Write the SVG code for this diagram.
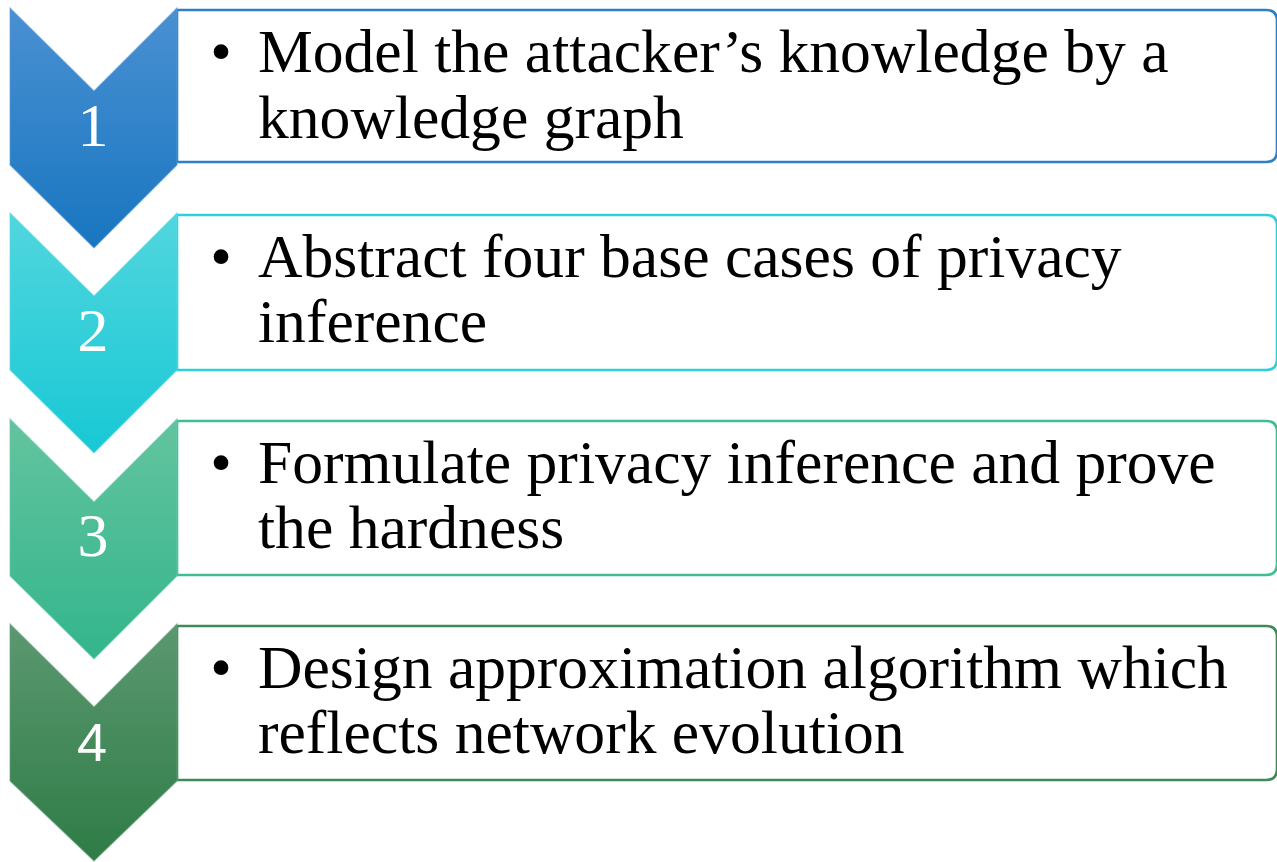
<svg xmlns="http://www.w3.org/2000/svg" width="1277" height="862" viewBox="0 0 1277 862">
  <defs>
    <linearGradient id="g1" x1="0" y1="0" x2="0" y2="1">
      <stop offset="0" stop-color="#4a90d2"/>
      <stop offset="1" stop-color="#1876c0"/>
    </linearGradient>
    <linearGradient id="g2" x1="0" y1="0" x2="0" y2="1">
      <stop offset="0" stop-color="#52d6de"/>
      <stop offset="1" stop-color="#17c8d5"/>
    </linearGradient>
    <linearGradient id="g3" x1="0" y1="0" x2="0" y2="1">
      <stop offset="0" stop-color="#63c49f"/>
      <stop offset="1" stop-color="#33b58c"/>
    </linearGradient>
    <linearGradient id="g4" x1="0" y1="0" x2="0" y2="1">
      <stop offset="0" stop-color="#5c9870"/>
      <stop offset="1" stop-color="#2e7c46"/>
    </linearGradient>
    <style>
      .box { fill: #ffffff; stroke-width: 2.6; }
      .chev { stroke-width: 1.2; stroke-opacity: 0.6; }
      .num { font-family: "Liberation Serif", "Times New Roman", serif; font-size: 62px; fill: #ffffff; text-anchor: middle; }
      .num-sans { font-family: "Liberation Sans", Arial, sans-serif; font-size: 54px; fill: #ffffff; text-anchor: middle; }
      .txt { font-family: "Liberation Serif", "Times New Roman", serif; font-size: 61.6px; fill: #000000; }
      .bul { font-family: "Liberation Serif", "Times New Roman", serif; font-size: 61.6px; fill: #000000; text-anchor: middle; }
    </style>
  </defs>

  <!-- step 1 -->
  <g id="step1">
    <path class="box" stroke="#2e7fc4" d="M177,10 H1266 Q1277,10 1277,21 V151 Q1277,162 1266,162 H177 Z"/>
    <polygon class="chev" fill="url(#g1)" stroke="#5a9ad6" points="10,8 94,91 177,8 177,165 94,248 10,165"/>
    <text class="num" x="93" y="146">1</text>
    <text class="bul" x="221" y="72">•</text>
    <text class="txt" x="258" y="72">Model the attacker’s knowledge by a</text>
    <text class="txt" x="258" y="138">knowledge graph</text>
  </g>

  <!-- step 2 -->
  <g id="step2">
    <path class="box" stroke="#2fd0d9" d="M177,215 H1266 Q1277,215 1277,226 V359 Q1277,370 1266,370 H177 Z"/>
    <polygon class="chev" fill="url(#g2)" stroke="#5adbe2" points="10,213 94,296 177,213 177,370 94,453 10,370"/>
    <text class="num" x="93" y="351">2</text>
    <text class="bul" x="221" y="277">•</text>
    <text class="txt" x="258" y="277">Abstract four base cases of privacy</text>
    <text class="txt" x="258" y="342">inference</text>
  </g>

  <!-- step 3 -->
  <g id="step3">
    <path class="box" stroke="#40bd95" d="M177,421 H1266 Q1277,421 1277,432 V564 Q1277,575 1266,575 H177 Z"/>
    <polygon class="chev" fill="url(#g3)" stroke="#6cc8a6" points="10,419 94,502 177,419 177,576 94,659 10,576"/>
    <text class="num" x="93" y="556">3</text>
    <text class="bul" x="221" y="483">•</text>
    <text class="txt" x="258" y="483">Formulate privacy inference and prove</text>
    <text class="txt" x="258" y="548">the hardness</text>
  </g>

  <!-- step 4 -->
  <g id="step4">
    <path class="box" stroke="#3f8a57" d="M177,626 H1266 Q1277,626 1277,637 V769 Q1277,780 1266,780 H177 Z"/>
    <polygon class="chev" fill="url(#g4)" stroke="#66a079" points="10,624 94,707 177,624 177,781 94,861 10,781"/>
    <text class="num-sans" x="92" y="761">4</text>
    <text class="bul" x="221" y="688">•</text>
    <text class="txt" x="258" y="688">Design approximation algorithm which</text>
    <text class="txt" x="258" y="753">reflects network evolution</text>
  </g>

  <!-- no connectors: the chevrons themselves carry the flow -->
  <g id="connectors"/>
</svg>
